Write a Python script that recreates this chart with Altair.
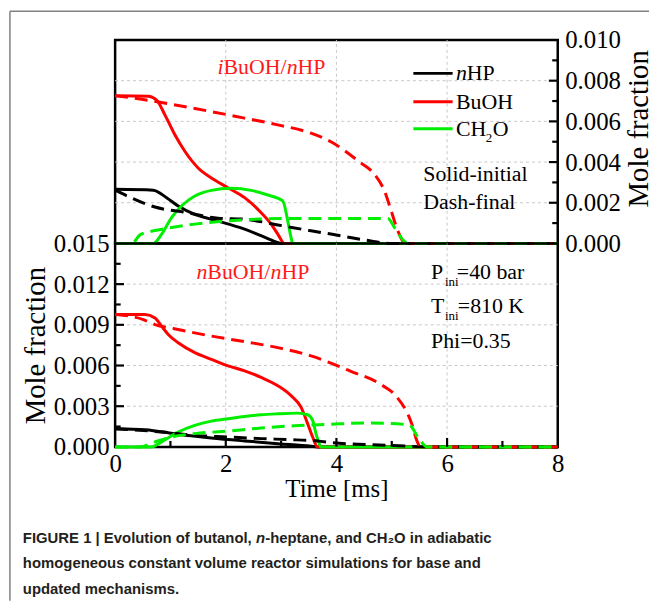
import altair as alt
import pandas as pd

SCALE = 1e-3  # values below are in units of 1e-3 mole fraction

SPECIES = ["nHP", "BuOH", "CH2O"]
COLORS = ["#000000", "#ff0000", "#00ee00"]

# ---------------- top panel: iBuOH/nHP ----------------
i_nhp_init_t = [0, 0.69, 0.93, 1.14, 1.44, 1.74, 2.34, 2.72, 3.02, 8]
i_nhp_init_v = [2.66, 2.62, 2.25, 1.84, 1.43, 1.19, 0.70, 0.29, 0, 0]
i_nhp_final_t = [0, 0.22, 0.72, 1.32, 1.86, 2.34, 2.94, 3.54, 3.9, 4.54, 4.99, 8]
i_nhp_final_v = [2.62, 2.33, 1.79, 1.51, 1.24, 1.19, 0.91, 0.62, 0.46, 0.16, 0, 0]
i_buoh_init_t = [0, 0.6, 0.75, 0.9, 1.08, 1.26, 1.5, 1.74, 2.04, 2.34, 2.64, 2.82, 2.94, 3.06, 8]
i_buoh_init_v = [7.26, 7.24, 7.05, 6.32, 5.34, 4.53, 3.71, 3.22, 2.74, 2.25, 1.51, 0.95, 0.46, 0, 0]
i_buoh_final_t = [0, 0.45, 1.14, 1.74, 2.34, 2.94, 3.54, 3.9, 4.4, 4.69, 4.87, 4.99, 5.11, 5.25, 8]
i_buoh_final_v = [7.26, 7.1, 6.78, 6.48, 6.16, 5.83, 5.42, 5.0, 4.04, 3.39, 2.57, 1.6, 0.62, 0, 0]
i_ch2o_init_t = [0, 0.69, 0.84, 1.02, 1.2, 1.44, 1.74, 2.1, 2.46, 2.76, 3.03, 3.12, 3.18, 3.21, 8]
i_ch2o_init_v = [0, 0, 0.46, 1.27, 1.84, 2.33, 2.61, 2.71, 2.61, 2.38, 2.09, 1.11, 0.29, 0, 0]
i_ch2o_final_t = [0, 0.3, 0.45, 0.75, 1.02, 1.44, 2.04, 2.64, 3.24, 4.93, 5.05, 5.23, 5.29, 8]
i_ch2o_final_v = [0, 0, 0.42, 0.65, 0.78, 0.95, 1.11, 1.2, 1.23, 1.23, 0.78, 0.1, 0, 0]

# ---------------- bottom panel: nBuOH/nHP ----------------
n_nhp_init_t = [0, 0.54, 1.14, 1.74, 2.34, 2.94, 3.54, 3.66, 8]
n_nhp_init_v = [1.34, 1.27, 0.93, 0.66, 0.44, 0.24, 0.05, 0, 0]
n_nhp_final_t = [0, 0.84, 1.44, 2.04, 2.64, 3.12, 3.66, 3.94, 4.54, 5.13, 5.73, 8]
n_nhp_final_v = [1.34, 1.1, 0.85, 0.73, 0.61, 0.54, 0.44, 0.3, 0.17, 0.08, 0, 0]
n_buoh_init_t = [0, 0.54, 0.72, 0.84, 0.96, 1.14, 1.44, 1.74, 2.04, 2.34, 2.64, 2.94, 3.18, 3.36, 3.48, 3.57, 3.66, 8]
n_buoh_init_v = [9.76, 9.76, 9.51, 8.9, 8.29, 7.68, 6.95, 6.46, 5.98, 5.61, 5.12, 4.51, 3.78, 2.93, 1.71, 0.73, 0, 0]
n_buoh_final_t = [0, 0.51, 0.72, 1.05, 1.74, 2.34, 2.94, 3.54, 4.24, 4.84, 5.07, 5.37, 5.45, 5.52, 8]
n_buoh_final_v = [9.76, 9.39, 9.02, 8.73, 8.17, 7.76, 7.32, 6.71, 5.61, 4.51, 3.78, 1.59, 0.5, 0, 0]
n_ch2o_init_t = [0, 0.66, 0.84, 1.14, 1.44, 1.74, 2.04, 2.34, 2.64, 2.94, 3.3, 3.48, 3.57, 3.63, 3.69, 3.72, 8]
n_ch2o_init_v = [0, 0, 0.37, 1.1, 1.59, 1.9, 2.07, 2.24, 2.37, 2.44, 2.49, 2.37, 1.95, 0.98, 0.24, 0, 0]
n_ch2o_final_t = [0, 0.45, 0.72, 1.08, 1.44, 2.04, 2.64, 3.24, 3.84, 4.54, 5.31, 5.49, 5.64, 8]
n_ch2o_final_v = [0, 0, 0.37, 0.78, 0.98, 1.17, 1.39, 1.56, 1.66, 1.76, 1.63, 0.61, 0, 0]

# axis tick values
top_y_major = [0.000, 0.002, 0.004, 0.006, 0.008, 0.010]
top_y_grid = [2, 4, 6, 8]
top_y_minor = [1, 3, 5, 7, 9]
bot_y_major = [0.000, 0.003, 0.006, 0.009, 0.012, 0.015]
bot_y_grid = [3, 6, 9, 12]
bot_y_minor = [1.5, 4.5, 7.5, 10.5, 13.5]
x_major = [0, 2, 4, 6, 8]
x_grid = [2, 4, 6]
x_minor = [1, 3, 5, 7]

CAPTION = [
    "homogeneous constant volume reactor simulations for base and",
    "updated mechanisms.",
]

SERIF = "Liberation Serif"
SANS = "Liberation Sans"
LW = 3


def series_df(specs):
    rows = []
    for species, kind, ts, vs in specs:
        for t, v in zip(ts, vs):
            rows.append({"t": t, "v": v * SCALE, "species": species, "kind": kind})
    return pd.DataFrame(rows)


top_df = series_df([
    ("nHP", "initial", i_nhp_init_t, i_nhp_init_v),
    ("BuOH", "initial", i_buoh_init_t, i_buoh_init_v),
    ("CH2O", "initial", i_ch2o_init_t, i_ch2o_init_v),
    ("nHP", "final", i_nhp_final_t, i_nhp_final_v),
    ("BuOH", "final", i_buoh_final_t, i_buoh_final_v),
    ("CH2O", "final", i_ch2o_final_t, i_ch2o_final_v),
])
bot_df = series_df([
    ("nHP", "initial", n_nhp_init_t, n_nhp_init_v),
    ("BuOH", "initial", n_buoh_init_t, n_buoh_init_v),
    ("CH2O", "initial", n_ch2o_init_t, n_ch2o_init_v),
    ("nHP", "final", n_nhp_final_t, n_nhp_final_v),
    ("BuOH", "final", n_buoh_final_t, n_buoh_final_v),
    ("CH2O", "final", n_ch2o_final_t, n_ch2o_final_v),
])

ax_kw = dict(grid=False, ticks=False, domain=False, labelFlush=False, labelOverlap=False,
             labelFont=SERIF, labelFontSize=25, labelColor="black",
             titleFont=SERIF, titleFontSize=29, titleFontWeight="normal",
             titleColor="black")

xscale = alt.Scale(domain=[0, 8], nice=False, zero=False)
X_top = alt.X("t:Q", scale=xscale, axis=None)
Y_top = alt.Y("v:Q", scale=alt.Scale(domain=[0, 0.010], nice=False),
              axis=alt.Axis(orient="right", values=top_y_major, format=".3f",
                            title="Mole fraction", titleAngle=270, titleBaseline="top",
                            titlePadding=4, labelPadding=7, titleY=89, **ax_kw))
X_bot = alt.X("t:Q", scale=xscale,
              axis=alt.Axis(values=x_major, format="d", title="Time [ms]",
                            labelPadding=5, titlePadding=0,
                            **{**ax_kw, "titleFontSize": 25}))
Y_bot = alt.Y("v:Q", scale=alt.Scale(domain=[0, 0.015], nice=False),
              axis=alt.Axis(orient="left", values=bot_y_major, format=".3f",
                            title="Mole fraction", titlePadding=3, labelPadding=6,
                            **ax_kw))

COLOR = alt.Color("species:N", scale=alt.Scale(domain=SPECIES, range=COLORS), legend=None)


def lines(df, X, Y):
    base = alt.Chart(df)
    solid = base.transform_filter(alt.datum.kind == "initial").mark_line(
        strokeWidth=LW, interpolate="monotone").encode(x=X, y=Y, color=COLOR, detail="species:N")
    dashed = base.transform_filter(alt.datum.kind == "final").mark_line(
        strokeWidth=LW, interpolate="monotone", strokeDash=[13, 7]).encode(
        x=X, y=Y, color=COLOR, detail="species:N")
    return [solid, dashed]


def grid(xvals, yvals, ymax, X, Y):
    gx = pd.DataFrame({"t": xvals, "v": [0] * len(xvals), "v2": [ymax * SCALE] * len(xvals)})
    gy = pd.DataFrame({"t": [0] * len(yvals), "t2": [8] * len(yvals),
                       "v": [v * SCALE for v in yvals]})
    kw = dict(color="#c8c8c8", strokeWidth=1, strokeDash=[3, 3])
    return [
        alt.Chart(gx).mark_rule(**kw).encode(x=X, y=Y, y2="v2:Q"),
        alt.Chart(gy).mark_rule(**kw).encode(x=X, x2="t2:Q", y=Y),
    ]


def label(txt, t, v, X, Y, dx=0, dy=0, size=22, italic=False, color="black"):
    df = pd.DataFrame({"t": [t], "v": [v * SCALE], "label": [txt]})
    return alt.Chart(df).mark_text(
        align="left", baseline="middle", font=SERIF, fontSize=size,
        fontStyle="italic" if italic else "normal", dx=dx, dy=dy, color=color
    ).encode(x=X, y=Y, text="label:N")


def ptext(txt, x, y, dx=0, italic=False):
    df = pd.DataFrame({"label": [txt]})
    return alt.Chart(df).mark_text(
        align="left", baseline="middle", font=SANS, fontSize=15, fontWeight="bold",
        fontStyle="italic" if italic else "normal", color="#231f20", dx=dx
    ).encode(x=alt.value(x), y=alt.value(y), text="label:N")


def hticks(values, t0, t1, X, Y):
    df = pd.DataFrame({"t": [t0] * len(values), "t2": [t1] * len(values),
                       "v": [v * SCALE for v in values]})
    return alt.Chart(df).mark_rule(color="black", strokeWidth=2.2).encode(x=X, x2="t2:Q", y=Y)


def vticks(values, length, X, Y):
    df = pd.DataFrame({"t": values, "v": [0] * len(values), "v2": [length * SCALE] * len(values)})
    return alt.Chart(df).mark_rule(color="black", strokeWidth=2.2).encode(x=X, y=Y, y2="v2:Q")


RED = "#ff1a1a"

# legend samples (top panel)
leg_df = pd.DataFrame({"t": [5.39] * 3, "t2": [6.1] * 3,
                       "v": [8.36 * SCALE, 6.97 * SCALE, 5.64 * SCALE], "species": SPECIES})
legend_lines = alt.Chart(leg_df).mark_rule(strokeWidth=LW).encode(
    x=X_top, x2="t2:Q", y=Y_top, color=COLOR)

border_df = pd.DataFrame({"k": [0]})
border_left = alt.Chart(border_df).mark_rule(color="#808080", strokeWidth=1.5).encode(
    x=alt.value(-106), y=alt.value(-29), y2=alt.value(565))
border_top = alt.Chart(border_df).mark_rule(color="#808080", strokeWidth=1.5).encode(
    x=alt.value(-106), x2=alt.value(538), y=alt.value(-29))

top_layers = [border_left, border_top] + grid(x_grid, top_y_grid, 10, X_top, Y_top) + \
    lines(top_df, X_top, Y_top) + [
    hticks([2, 4, 6, 8], 7.84, 8, X_top, Y_top),
    hticks(top_y_minor, 7.9, 8, X_top, Y_top),
    legend_lines,
    label("i", 1.85, 8.68, X_top, Y_top, italic=True, color=RED),
    label("BuOH/", 1.85, 8.68, X_top, Y_top, dx=6.1, color=RED),
    label("n", 1.85, 8.68, X_top, Y_top, dx=69.7, italic=True, color=RED),
    label("HP", 1.85, 8.68, X_top, Y_top, dx=80.7, color=RED),
    label("n", 6.16, 8.36, X_top, Y_top, italic=True),
    label("HP", 6.16, 8.36, X_top, Y_top, dx=11),
    label("BuOH", 6.16, 6.97, X_top, Y_top),
    label("CH", 6.16, 5.64, X_top, Y_top),
    label("2", 6.16, 5.64, X_top, Y_top, dx=30, dy=9, size=13),
    label("O", 6.16, 5.64, X_top, Y_top, dx=37),
    label("Solid-initial", 5.57, 3.42, X_top, Y_top),
    label("Dash-final", 5.57, 2.05, X_top, Y_top),
]

top = alt.layer(*top_layers).properties(width=446, height=205)

bot_layers = grid(x_grid, bot_y_grid, 15, X_bot, Y_bot) + lines(bot_df, X_bot, Y_bot) + [
    hticks([3, 6, 9, 12], 0, 0.16, X_bot, Y_bot),
    hticks(bot_y_minor, 0, 0.1, X_bot, Y_bot),
    vticks([2, 4, 6], 0.66, X_bot, Y_bot),
    vticks(x_minor, 0.44, X_bot, Y_bot),
    label("n", 1.47, 12.9, X_bot, Y_bot, italic=True, color=RED),
    label("BuOH/", 1.47, 12.9, X_bot, Y_bot, dx=11, color=RED),
    label("n", 1.47, 12.9, X_bot, Y_bot, dx=74.6, italic=True, color=RED),
    label("HP", 1.47, 12.9, X_bot, Y_bot, dx=85.6, color=RED),
    label("P", 5.71, 12.9, X_bot, Y_bot),
    label("ini", 5.71, 12.9, X_bot, Y_bot, dx=14, dy=10, size=13),
    label("=40 bar", 5.71, 12.9, X_bot, Y_bot, dx=26),
    label("T", 5.71, 10.36, X_bot, Y_bot),
    label("ini", 5.71, 10.36, X_bot, Y_bot, dx=14, dy=10, size=13),
    label("=810 K", 5.71, 10.36, X_bot, Y_bot, dx=27),
    label("Phi=0.35", 5.71, 7.8, X_bot, Y_bot),
    ptext("FIGURE 1 | Evolution of butanol, ", -93, 297),
    ptext("n", -93, 297, dx=235.0, italic=True),
    ptext("-heptane, and CH\u2082O in adiabatic", -93, 297, dx=244.2),
    ptext(CAPTION[0], -93, 322),
    ptext(CAPTION[1], -93, 348),
]

bot = alt.layer(*bot_layers).properties(width=446, height=205)

chart = alt.vconcat(top, bot, spacing=0, bounds="flush").configure_view(
    stroke="black", strokeWidth=2.5
).properties(
    padding={"left": 8, "top": 7, "right": 0, "bottom": 0},
    background="white",
)

chart.save("out.html", embed_options={"renderer": "svg", "actions": False})
